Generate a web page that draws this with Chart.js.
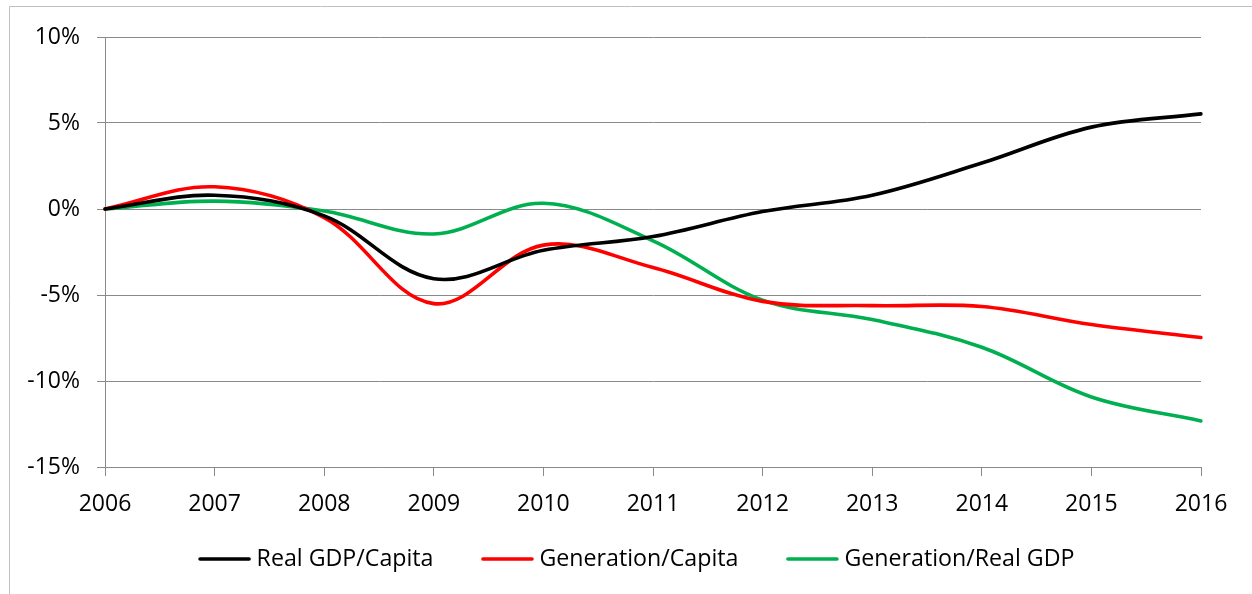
<!DOCTYPE html>
<html>
<head>
<meta charset="utf-8">
<script src="https://cdn.jsdelivr.net/npm/chart.js@4/dist/chart.umd.min.js"></script>
<style>
  html, body { margin: 0; padding: 0; background: #ffffff; }
  #wrap { position: relative; width: 1252px; height: 594px; }
</style>
</head>
<body>
<div id="wrap"><canvas id="c" width="1252" height="594"></canvas></div>
<script>
const years = ['2006', '2007', '2008', '2009', '2010', '2011', '2012', '2013', '2014', '2015', '2016'];
const realGdpPerCapita = [0, 0.8, -0.4, -4.05, -2.4, -1.6, -0.15, 0.8, 2.67, 4.76, 5.53];
const generationPerCapita = [0, 1.29, -0.5, -5.5, -2.1, -3.4, -5.37, -5.62, -5.67, -6.72, -7.47];
const generationPerRealGdp = [0, 0.46, -0.12, -1.45, 0.33, -1.85, -5.3, -6.43, -8.04, -10.93, -12.32];
const seriesNames = ['Real GDP/Capita', 'Generation/Capita', 'Generation/Real GDP'];
const yTicks = [-15, -10, -5, 0, 5, 10];

const FONT = "'Open Sans', 'DejaVu Sans', sans-serif";
const FONT_SIZE = 23;
const LEGEND_FONT_SIZE = 23.2;
const GRID = '#8a8a8a';

const frame = {
  id: 'frame',
  beforeDraw(chart) {
    const ctx = chart.ctx;
    ctx.save();
    ctx.strokeStyle = '#c0c0c0';
    ctx.lineWidth = 1;
    ctx.beginPath();
    ctx.moveTo(9.5, chart.height + 5);
    ctx.lineTo(9.5, 6.5);
    ctx.lineTo(chart.width + 5, 6.5);
    ctx.stroke();
    ctx.restore();
  }
};

// Excel-style legend: short line sample, small gap, label; centred under the chart
const excelLegend = {
  id: 'excelLegend',
  afterDraw(chart) {
    const ctx = chart.ctx;
    const lineLen = 52, gap = 6, itemGap = 48, centerX = 636.5, y = 559;
    ctx.save();
    ctx.font = LEGEND_FONT_SIZE + 'px ' + FONT;
    ctx.textBaseline = 'middle';
    ctx.textAlign = 'left';
    const items = chart.data.datasets.map(d => ({
      text: d.label, color: d.borderColor, w: ctx.measureText(d.label).width
    }));
    const total = items.reduce((s, it) => s + lineLen + gap + it.w, 0) + itemGap * (items.length - 1);
    let x = centerX - total / 2;
    items.forEach(it => {
      ctx.strokeStyle = it.color;
      ctx.lineWidth = 3.6;
      ctx.lineCap = 'round';
      ctx.beginPath();
      ctx.moveTo(x + 1.5, y);
      ctx.lineTo(x + lineLen - 1.5, y);
      ctx.stroke();
      ctx.fillStyle = '#000000';
      ctx.fillText(it.text, x + lineLen + gap, y);
      x += lineLen + gap + it.w + itemGap;
    });
    ctx.restore();
  }
};

function ds(label, data, color) {
  return {
    label, data,
    borderColor: color, backgroundColor: color,
    borderWidth: 3.6, pointRadius: 0, pointHoverRadius: 0,
    tension: 0.36, fill: false, borderCapStyle: 'round'
  };
}

new Chart(document.getElementById('c'), {
  type: 'line',
  data: {
    labels: years,
    datasets: [
      ds(seriesNames[0], realGdpPerCapita, '#000000'),
      ds(seriesNames[1], generationPerCapita, '#ff0000'),
      ds(seriesNames[2], generationPerRealGdp, '#00b050')
    ]
  },
  options: {
    responsive: false,
    animation: false,
    devicePixelRatio: 1,
    layout: { padding: { left: 20, right: 0, top: 37, bottom: 73 } },
    plugins: {
      tooltip: { enabled: false },
      legend: { display: false }
    },
    scales: {
      x: {
        type: 'category',
        offset: false,
        grid: { drawOnChartArea: false, color: GRID, tickLength: 9, lineWidth: 1 },
        border: { display: true, color: GRID, width: 1 },
        ticks: { color: '#000000', font: { family: FONT, size: FONT_SIZE }, padding: 15, maxRotation: 0, autoSkip: false },
        afterFit(s) { s.height = 54; }
      },
      y: {
        type: 'linear',
        min: -15, max: 10,
        afterBuildTicks(s) { s.ticks = yTicks.map(v => ({ value: v })); },
        grid: { color: GRID, tickLength: 8, lineWidth: 1 },
        border: { display: true, color: GRID, width: 1 },
        ticks: { color: '#000000', font: { family: FONT, size: FONT_SIZE }, padding: 17, callback: v => v + '%' },
        afterFit(s) { s.width = 85; }
      },
      spacer: {
        type: 'linear',
        position: 'right',
        display: true,
        grid: { display: false },
        border: { display: false },
        ticks: { display: false },
        afterFit(s) { s.width = 51; }
      }
    }
  },
  plugins: [frame, excelLegend]
});
</script>
</body>
</html>
